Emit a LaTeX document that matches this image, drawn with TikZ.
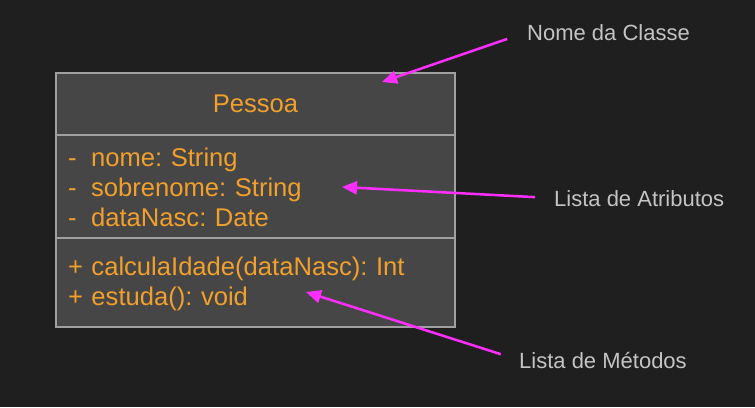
\documentclass[tikz,border=0pt]{standalone}
\usepackage{fontspec}
\setmainfont{Liberation Sans}
\usetikzlibrary{positioning,arrows.meta}
\frenchspacing

\definecolor{bg}{HTML}{1F1F1F}
\definecolor{boxfill}{HTML}{464646}
\definecolor{boxline}{HTML}{A0A0A0}
\definecolor{txt}{HTML}{F2A02C}
\definecolor{note}{HTML}{C4C4C4}
\definecolor{pink}{HTML}{FF2EFF}

\tikzset{part/.style={draw=boxline,fill=boxfill,line width=2pt,outer sep=0pt,
  rectangle,minimum width=399pt,text=txt,font=\fontsize{25.6}{30}\selectfont}}
\tikzset{list/.style={part,align=left,text width=375pt,inner xsep=12pt}}
\tikzset{lbl/.style={anchor=base west,inner sep=0pt,text=note,font=\fontsize{22}{26}\selectfont}}
\tikzset{arr/.style={draw=pink,line width=2.5pt,shorten <=19pt,
  -{Triangle[length=15pt,width=13pt]}}}

\begin{document}
\begin{tikzpicture}[x=1pt,y=-1pt]
  \fill[bg] (0,0) rectangle (755,407);
  \useasboundingbox (0,0) rectangle (755,407);

  % class box
  \node[part,minimum height=62pt,anchor=north west] (title) at (56,73) {Pessoa};
  \node[list,minimum height=103pt,below=0pt of title] (attrs)
    {\strut-\hspace{0.57em}nome: String\\-\hspace{0.57em}sobrenome: String\\-\hspace{0.57em}dataNasc: Date};
  \node[list,minimum height=89pt,below=0pt of attrs] (methods)
    {\strut+ calculaIdade(dataNasc): Int\\+ estuda(): void};

  % notes
  \node[lbl] (nomeLbl) at (527,40) {Nome da Classe};
  \node[lbl] (attrLbl) at (554,206) {Lista de Atributos};
  \node[lbl] (methLbl) at (519,368) {Lista de Métodos};

  \coordinate (nomeTip) at (382,82);
  \coordinate (attrTip) at (342,187);
  \coordinate (methTip) at (306,292);

  \draw[arr,shorten <=21pt] (nomeLbl.west) -- (nomeTip);
  \draw[arr] (attrLbl.west) -- (attrTip);
  \draw[arr] (methLbl.west) -- (methTip);
\end{tikzpicture}
\end{document}
